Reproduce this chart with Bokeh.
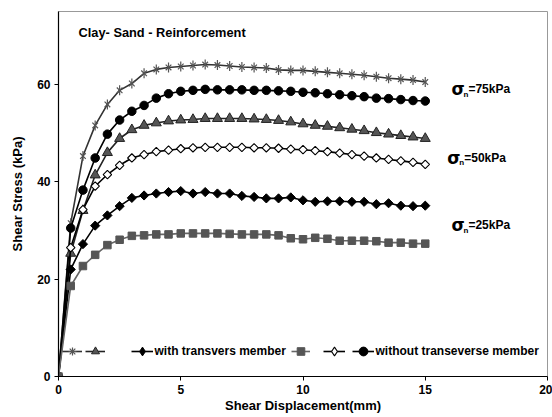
import math
from bokeh.plotting import figure
from bokeh.models import Range1d, Legend, LegendItem, Label, FixedTicker
from bokeh.embed import file_html
from bokeh.resources import INLINE

# ---- data ----
disp = [0, 0.5, 1.0, 1.5, 2.0, 2.5, 3.0, 3.5, 4.0, 4.5, 5.0, 5.5, 6.0, 6.5, 7.0, 7.5,
        8.0, 8.5, 9.0, 9.5, 10.0, 10.5, 11.0, 11.5, 12.0, 12.5, 13.0, 13.5, 14.0, 14.5, 15.0]

with_75 = [0, 31.5, 45.3, 51.6, 55.9, 58.8, 60.2, 62.3, 63.1, 63.5, 63.7, 63.9, 64.1, 64.0, 63.8, 63.6,
           63.5, 63.4, 63.0, 62.9, 62.9, 62.7, 62.5, 62.3, 62.1, 61.9, 61.6, 61.3, 61.1, 60.9, 60.5]
without_75 = [0, 30.5, 38.3, 44.9, 49.8, 52.7, 54.5, 55.7, 57.2, 58.1, 58.6, 58.8, 59.0, 58.9, 58.9, 58.9,
              58.8, 58.8, 58.7, 58.6, 58.4, 58.3, 58.1, 57.9, 57.7, 57.5, 57.2, 57.1, 56.9, 56.7, 56.6]
with_50 = [0, 25.3, 34.1, 41.4, 46.0, 48.9, 50.7, 51.6, 52.1, 52.5, 52.7, 52.8, 53.0, 53.0, 53.0, 53.0,
           52.9, 52.8, 52.6, 52.3, 51.9, 51.6, 51.4, 51.1, 50.8, 50.5, 50.1, 49.8, 49.5, 49.2, 48.9]
without_50 = [0, 26.5, 34.3, 39.1, 41.5, 43.4, 44.9, 45.6, 46.2, 46.5, 46.8, 47.0, 47.1, 47.1, 47.1, 47.1,
              47.0, 47.0, 46.9, 46.7, 46.6, 46.4, 46.2, 45.9, 45.6, 45.3, 44.9, 44.6, 44.3, 44.0, 43.6]
with_25 = [0, 22.0, 27.2, 31.0, 33.1, 35.0, 36.7, 37.2, 37.6, 37.9, 38.1, 37.6, 37.9, 37.6, 37.6, 37.1,
           36.9, 36.6, 36.6, 36.8, 36.2, 35.9, 36.0, 36.0, 35.9, 35.9, 35.4, 35.6, 35.1, 35.0, 35.1]
without_25 = [0, 18.6, 22.7, 25.0, 27.0, 28.1, 28.9, 29.0, 29.2, 29.2, 29.4, 29.4, 29.4, 29.4, 29.3, 29.2,
              29.2, 29.2, 29.0, 28.4, 28.2, 28.5, 28.3, 27.9, 27.9, 27.9, 27.8, 27.5, 27.5, 27.3, 27.3]

x_ticks = [0, 5, 10, 15, 20]
y_ticks = [0, 20, 40, 60]
title_text = "Clay- Sand - Reinforcement"
stress_levels = ["75", "50", "25"]
legend_with = "with transvers member"
legend_without = "without transeverse member"

FONT = "Liberation Sans"

p = figure(width=552, height=417, output_backend="svg", toolbar_location=None,
           x_range=Range1d(0, 20), y_range=Range1d(0, 75),
           min_border_left=58, min_border_right=5, min_border_top=11, min_border_bottom=41)
p.grid.visible = False
p.outline_line_color = "#999999"
p.outline_line_width = 1
p.background_fill_color = "white"
p.border_fill_color = "white"

for ax in (p.xaxis[0], p.yaxis[0]):
    ax.axis_line_color = "black"
    ax.axis_line_width = 1.2
    ax.major_tick_line_color = "black"
    ax.major_tick_in = 0
    ax.major_tick_out = 4
    ax.minor_tick_line_color = None
    ax.major_label_text_font = FONT
    ax.major_label_text_font_style = "bold"
    ax.major_label_text_font_size = "12px"
    ax.major_label_text_color = "black"
    ax.axis_label_text_font = FONT
    ax.axis_label_text_font_style = "bold"
    ax.axis_label_text_font_size = "13px"
    ax.axis_label_text_color = "black"

p.xaxis.ticker = FixedTicker(ticks=x_ticks)
p.yaxis.ticker = FixedTicker(ticks=y_ticks)
p.xaxis.axis_label = "Shear Displacement(mm)"
p.yaxis.axis_label = "Shear Stress (kPa)"
p.xaxis.major_label_standoff = 4
p.xaxis.axis_label_standoff = 1
p.yaxis.major_label_standoff = 4
p.yaxis.axis_label_standoff = 9

LW = 1.6

# Legend-only marker shapes (tiny, drawn first so they are hidden under the real markers);
# the legend sizes markers from its own box, so they show at full size there.
k1 = p.scatter(disp, with_75, marker="asterisk", size=2, line_color="#555555", line_width=1.2)
k4 = p.scatter(disp, without_50, marker="diamond", size=3, fill_color="white", line_color="black", line_width=1.1)
k5 = p.scatter(disp, with_25, marker="diamond", size=3, fill_color="black", line_color="black")

# stars (75 kPa, with)
l1 = p.line(disp, with_75, line_color="#333333", line_width=LW)
s1a = p.scatter(disp, with_75, marker="x", size=8, line_color="#555555", line_width=1.2)
s1b = p.scatter(disp, with_75, marker="dash", size=10, angle=math.pi / 2, line_color="#555555", line_width=1.2)
# filled circles (75 kPa, without)
l2 = p.line(disp, without_75, line_color="black", line_width=LW)
s2 = p.scatter(disp, without_75, marker="circle", size=8.5, fill_color="black", line_color="black")
# triangles (50 kPa, with)
l3 = p.line(disp, with_50, line_color="#222222", line_width=LW)
s3 = p.scatter(disp, with_50, marker="triangle", size=10, fill_color="#555555", line_color="#222222")
# open diamonds (50 kPa, without)
l4 = p.line(disp, without_50, line_color="black", line_width=LW)
s4 = p.scatter(disp, without_50, marker="square", angle=math.pi / 4, size=6, fill_color="white",
               line_color="black", line_width=1.1)
# filled diamonds (25 kPa, with)
l5 = p.line(disp, with_25, line_color="black", line_width=LW)
s5 = p.scatter(disp, with_25, marker="square", angle=math.pi / 4, size=6.5, fill_color="black", line_color="black")
# squares (25 kPa, without)
l6 = p.line(disp, without_25, line_color="#666666", line_width=LW)
s6 = p.scatter(disp, without_25, marker="square", size=7.5, fill_color="#555555", line_color="#555555")

# legend: one row inside the plot, near the bottom
entries = [
    ("", [l1, k1], 4, 20, 22),
    ("", [l3, s3], 27, 20, 24),
    (legend_with, [l5, k5], 72.5, 22, 24),
    ("", [l6, s6], 233, 19, 22),
    ("", [l4, k4], 265, 22, 24),
    (legend_without, [l2, s2], 293.5, 22, 22),
]
for label, rends, xoff, gw, gh in entries:
    lg = Legend(items=[LegendItem(label=label, renderers=rends)],
                location=(xoff, 25 - gh / 2), orientation="horizontal",
                padding=0, margin=0, spacing=0, label_standoff=2, label_width=0,
                glyph_width=gw, glyph_height=gh, label_height=14,
                border_line_color=None, background_fill_alpha=0,
                label_text_font=FONT, label_text_font_style="bold", label_text_font_size="12px",
                label_text_color="black")
    p.add_layout(lg, "center")

# annotations
p.add_layout(Label(x=0.82, y=70.7, text=title_text, text_font=FONT, text_font_style="bold",
                   text_font_size="12.8px", text_baseline="middle", text_color="black"))

sig_pos = [(16.07, 59.0), (15.9, 44.9), (16.07, 31.1)]
for lvl, (sx, sy) in zip(stress_levels, sig_pos):
    p.add_layout(Label(x=sx, y=sy, text="σ", text_font="DejaVu Sans", text_font_style="bold",
                       text_font_size="17px", text_baseline="middle", text_color="black"))
    p.add_layout(Label(x=sx, y=sy, text="n", x_offset=12, y_offset=-5, text_font=FONT,
                       text_font_style="bold", text_font_size="8px", text_baseline="middle",
                       text_color="black"))
    p.add_layout(Label(x=sx, y=sy, text="=" + lvl + "kPa", x_offset=17, text_font=FONT,
                       text_font_style="bold", text_font_size="12px", text_baseline="middle",
                       text_color="black"))

open("out.html", "w").write(file_html(p, INLINE))
